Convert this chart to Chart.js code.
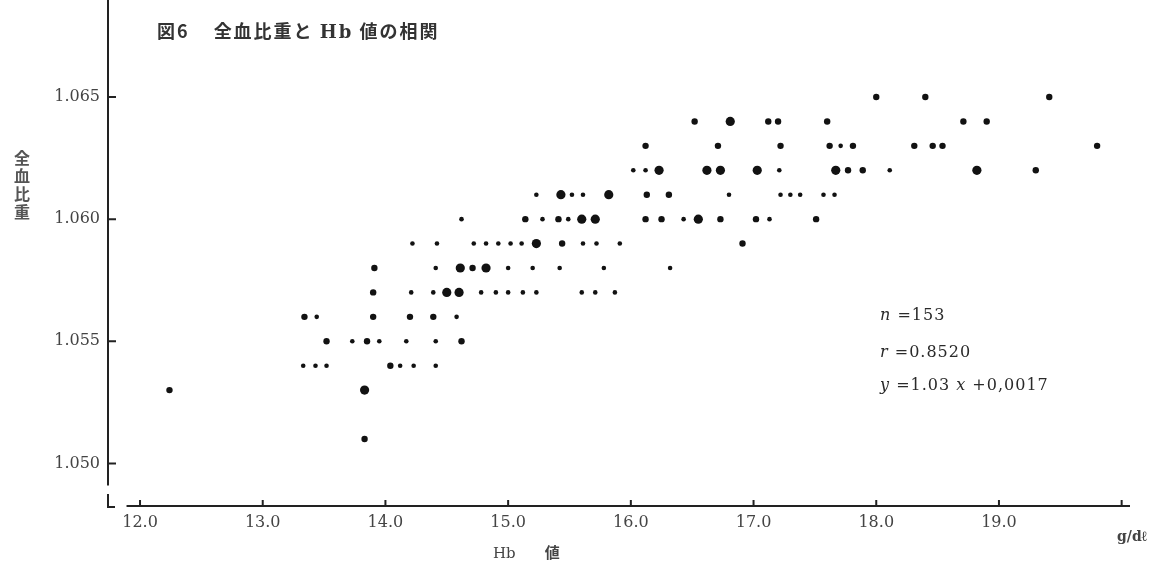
<!DOCTYPE html>
<html lang="ja">
<head>
<meta charset="utf-8">
<title>図6 全血比重とHb値の相関</title>
<script src="https://cdn.jsdelivr.net/npm/chart.js@4/dist/chart.umd.min.js"></script>
<style>
  body { margin: 0; background: #fff; }
  #wrap { position: relative; width: 1151px; height: 565px; }
  #grafico { position: absolute; left: 0; top: 0; }
  .txt { position: absolute; color: #3a3a3a; white-space: nowrap; line-height: 1; }
  #titulo { left: 157px; top: 17px; font: bold 18px "Noto Sans CJK JP"; letter-spacing: 2px; color: #333; }
  #titulo .hb { font-family: "DejaVu Serif"; font-weight: bold; }
  #ylabel { left: 10px; top: 150px; font: bold 16px "Noto Sans CJK JP"; writing-mode: vertical-rl; letter-spacing: 2px; color: #555; }
  #xlabel { left: 493px; top: 541px; font: 15px "DejaVu Serif"; color: #444; }
  #xlabel span { font-family: "Noto Sans CJK JP"; font-weight: bold; margin-left: 29px; }
  #unidad { left: 1117px; top: 528px; font: bold 14px "DejaVu Serif"; color: #444; }
  .stat { left: 880px; font: 16px "DejaVu Serif"; letter-spacing: 1px; color: #2a2a2a; }
</style>
</head>
<body>
<div id="wrap">
  <canvas id="grafico" width="1151" height="565"></canvas>
  <div class="txt" id="titulo">図6<span style="margin-left:24px">全血比重と <span class="hb">Hb</span> 値の相関</span></div>
  <div class="txt" id="ylabel">全血比重</div>
  <div class="txt" id="xlabel">Hb<span>値</span></div>
  <div class="txt" id="unidad">g/dℓ</div>
  <div class="txt stat" style="top:305px"><i>n</i> =153</div>
  <div class="txt stat" style="top:342px"><i>r</i> =0.8520</div>
  <div class="txt stat" style="top:375px"><i>y</i> =1.03 <i>x</i> +0,0017</div>
</div>
<script>
// Hb (g/dl), 全血比重, and how many subjects share the dot (1 small, 2 medium, 3 large)
const hb = [
  13.83,
  12.24, 13.83,
  13.33, 13.43, 13.52, 14.04, 14.12, 14.23, 14.41,
  13.52, 13.73, 13.85, 13.95, 14.17, 14.41, 14.62,
  13.34, 13.44, 13.90, 14.20, 14.39, 14.58,
  13.90, 14.21, 14.39, 14.50, 14.60, 14.78, 14.90, 15.00, 15.12, 15.23, 15.60, 15.71, 15.87,
  13.91, 14.41, 14.61, 14.71, 14.82, 15.00, 15.20, 15.42, 15.78, 16.32,
  14.22, 14.42, 14.72, 14.82, 14.92, 15.02, 15.11, 15.23, 15.44, 15.61, 15.72, 15.91, 16.91,
  14.62, 15.14, 15.28, 15.41, 15.49, 15.60, 15.71, 16.12, 16.25, 16.43, 16.55, 16.73, 17.02, 17.13, 17.51,
  15.23, 15.43, 15.52, 15.61, 15.82, 16.13, 16.31, 16.80, 17.22, 17.30, 17.38, 17.57, 17.66,
  16.02, 16.12, 16.23, 16.62, 16.73, 17.03, 17.21, 17.67, 17.77, 17.89, 18.11, 18.82, 19.30,
  16.12, 16.71, 17.22, 17.62, 17.71, 17.81, 18.31, 18.46, 18.54, 19.80,
  16.52, 16.81, 17.12, 17.20, 17.60, 18.71, 18.90,
  18.00, 18.40, 19.41
];
const sg = [
  1.051,
  1.053, 1.053,
  1.054, 1.054, 1.054, 1.054, 1.054, 1.054, 1.054,
  1.055, 1.055, 1.055, 1.055, 1.055, 1.055, 1.055,
  1.056, 1.056, 1.056, 1.056, 1.056, 1.056,
  1.057, 1.057, 1.057, 1.057, 1.057, 1.057, 1.057, 1.057, 1.057, 1.057, 1.057, 1.057, 1.057,
  1.058, 1.058, 1.058, 1.058, 1.058, 1.058, 1.058, 1.058, 1.058, 1.058,
  1.059, 1.059, 1.059, 1.059, 1.059, 1.059, 1.059, 1.059, 1.059, 1.059, 1.059, 1.059, 1.059,
  1.060, 1.060, 1.060, 1.060, 1.060, 1.060, 1.060, 1.060, 1.060, 1.060, 1.060, 1.060, 1.060, 1.060, 1.060,
  1.061, 1.061, 1.061, 1.061, 1.061, 1.061, 1.061, 1.061, 1.061, 1.061, 1.061, 1.061, 1.061,
  1.062, 1.062, 1.062, 1.062, 1.062, 1.062, 1.062, 1.062, 1.062, 1.062, 1.062, 1.062, 1.062,
  1.063, 1.063, 1.063, 1.063, 1.063, 1.063, 1.063, 1.063, 1.063, 1.063,
  1.064, 1.064, 1.064, 1.064, 1.064, 1.064, 1.064,
  1.065, 1.065, 1.065
];
const cuenta = [
  2,
  2, 3,
  1, 1, 1, 2, 1, 1, 1,
  2, 1, 2, 1, 1, 1, 2,
  2, 1, 2, 2, 2, 1,
  2, 1, 1, 3, 3, 1, 1, 1, 1, 1, 1, 1, 1,
  2, 1, 3, 2, 3, 1, 1, 1, 1, 1,
  1, 1, 1, 1, 1, 1, 1, 3, 2, 1, 1, 1, 2,
  1, 2, 1, 2, 1, 3, 3, 2, 2, 1, 3, 2, 2, 1, 2,
  1, 3, 1, 1, 3, 2, 2, 1, 1, 1, 1, 1, 1,
  1, 1, 3, 3, 3, 3, 1, 3, 2, 2, 1, 3, 2,
  2, 2, 2, 2, 1, 2, 2, 2, 2, 2,
  2, 3, 2, 2, 2, 2, 2,
  2, 2, 2
];
const xTicks = [12, 13, 14, 15, 16, 17, 18, 19, 20];
const yTicks = [1.050, 1.055, 1.060, 1.065];

const radios = { 1: 2.3, 2: 3.2, 3: 4.6 };
const puntos = hb.map((v, i) => ({ x: v, y: sg[i] }));

// axis lines drawn by hand: the y axis stops short and the corner has the little "L" break
const ejes = {
  id: 'ejes',
  beforeDatasetsDraw(chart) {
    const { ctx, chartArea: a, scales: { x, y } } = chart;
    ctx.save();
    ctx.strokeStyle = '#222';
    ctx.lineWidth = 2;
    ctx.beginPath();
    ctx.moveTo(a.left, 0);
    ctx.lineTo(a.left, y.getPixelForValue(1.0491));
    ctx.moveTo(a.left, a.bottom - 12);
    ctx.lineTo(a.left, a.bottom + 1);
    ctx.lineTo(a.left + 7, a.bottom + 1);
    ctx.moveTo(x.getPixelForValue(11.89), a.bottom);
    ctx.lineTo(a.right, a.bottom);
    yTicks.forEach(v => {
      const p = y.getPixelForValue(v);
      ctx.moveTo(a.left, p);
      ctx.lineTo(a.left + 8, p);
    });
    xTicks.forEach(v => {
      const p = x.getPixelForValue(v);
      ctx.moveTo(p, a.bottom);
      ctx.lineTo(p, a.bottom - 6);
    });
    ctx.stroke();
    ctx.restore();
  }
};

const fuente = { family: 'DejaVu Serif', size: 16 };

// drop the half-label margins chart.js adds so the plot fills the canvas like the print
function sinMargen(s) {
  s.paddingTop = 0;
  s.paddingBottom = 0;
  s.paddingLeft = 0;
  s.paddingRight = 0;
}

new Chart(document.getElementById('grafico'), {
  type: 'scatter',
  data: {
    datasets: [{
      data: puntos,
      backgroundColor: '#121212',
      borderWidth: 0,
      pointRadius: c => c.dataIndex === undefined ? 3 : radios[cuenta[c.dataIndex]],
      pointHoverRadius: c => c.dataIndex === undefined ? 3 : radios[cuenta[c.dataIndex]]
    }]
  },
  options: {
    responsive: false,
    animation: false,
    layout: { padding: { top: -5, right: 21, bottom: 0, left: 0 } },
    plugins: { legend: { display: false }, tooltip: { enabled: false } },
    scales: {
      x: {
        type: 'linear',
        min: 11.739,
        max: 20.068,
        grid: { display: false, drawTicks: false },
        border: { display: false },
        afterBuildTicks: s => { s.ticks = xTicks.map(v => ({ value: v })); },
        afterFit: s => { s.height = 59; sinMargen(s); },
        ticks: {
          autoSkip: false, maxRotation: 0, padding: 7, color: '#444', font: fuente,
          callback: v => v === 20 ? '' : v.toFixed(1)
        }
      },
      y: {
        type: 'linear',
        min: 1.048256,
        max: 1.068783,
        grid: { display: false, drawTicks: false },
        border: { display: false },
        afterBuildTicks: s => { s.ticks = yTicks.map(v => ({ value: v })); },
        afterFit: s => { s.width = 108; sinMargen(s); },
        ticks: {
          autoSkip: false, padding: 8, color: '#444', font: fuente,
          callback: v => v.toFixed(3)
        }
      }
    }
  },
  plugins: [ejes]
});
</script>
</body>
</html>
